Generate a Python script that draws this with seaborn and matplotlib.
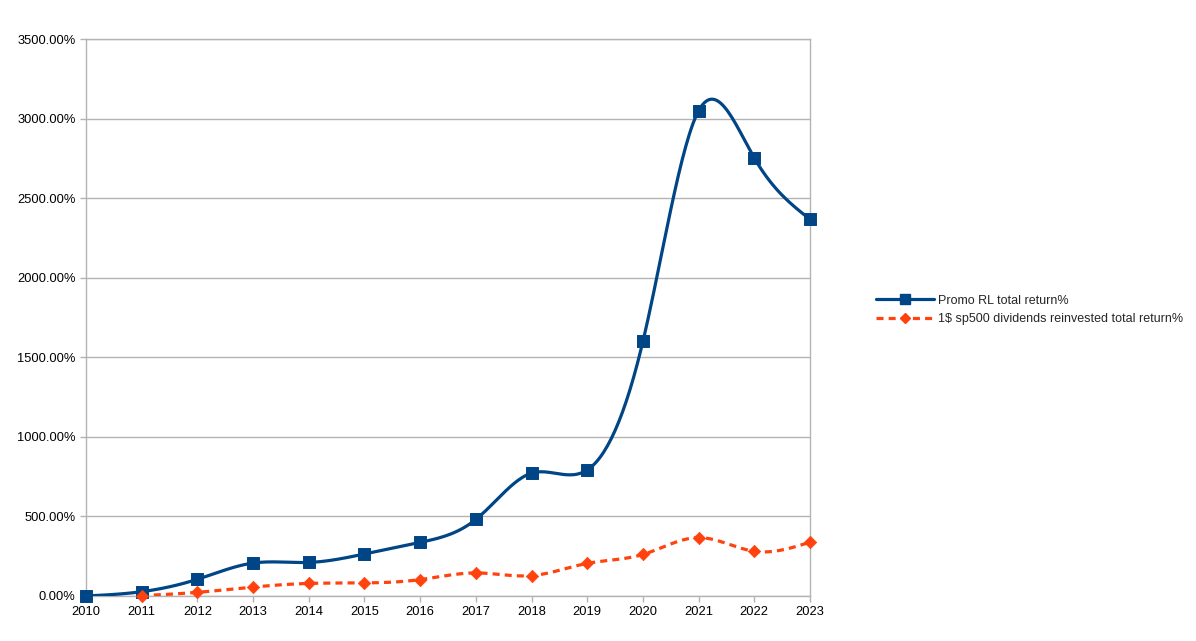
import matplotlib
matplotlib.use('AGG')
import matplotlib.pyplot as plt
from matplotlib.lines import Line2D
from matplotlib.ticker import FuncFormatter, MultipleLocator
import seaborn as sns
import numpy as np
import pandas as pd

# data (percent)
years = [2010, 2011, 2012, 2013, 2014, 2015, 2016, 2017, 2018, 2019, 2020, 2021, 2022, 2023]
promo_rl = [0, 27, 105, 207, 211, 264, 337, 481, 772, 792, 1600, 3049, 2752, 2367]
sp500_years = [2011, 2012, 2013, 2014, 2015, 2016, 2017, 2018, 2019, 2020, 2021, 2022, 2023]
sp500 = [2, 23, 56, 79, 82, 103, 145, 128, 205, 261, 367, 281, 338]

LAB_PROMO = 'Promo RL total return%'
LAB_SP = '1$ sp500 dividends reinvested total return%'
BLUE = '#004586'
ORANGE = '#ff420e'


def smooth(x, y, n=30):
    # natural cubic spline, only used to draw the smoothed line like the original
    x = np.asarray(x, float)
    y = np.asarray(y, float)
    k = len(x)
    h = np.diff(x)
    A = np.zeros((k, k))
    b = np.zeros(k)
    A[0, 0] = A[-1, -1] = 1
    for i in range(1, k - 1):
        A[i, i - 1] = h[i - 1]
        A[i, i] = 2 * (h[i - 1] + h[i])
        A[i, i + 1] = h[i]
        b[i] = 6 * ((y[i + 1] - y[i]) / h[i] - (y[i] - y[i - 1]) / h[i - 1])
    m = np.linalg.solve(A, b)
    xs, ys = [], []
    for i in range(k - 1):
        t = np.linspace(x[i], x[i + 1], n, endpoint=False)
        a = x[i + 1] - t
        c = t - x[i]
        s = (m[i] * a ** 3 + m[i + 1] * c ** 3) / (6 * h[i]) \
            + (y[i] / h[i] - m[i] * h[i] / 6) * a \
            + (y[i + 1] / h[i] - m[i + 1] * h[i] / 6) * c
        xs.extend(t)
        ys.extend(s)
    xs.append(x[-1])
    ys.append(y[-1])
    return pd.DataFrame({'year': xs, 'val': ys})


sns.set_theme(style='white')
plt.rcParams['font.family'] = ['Liberation Sans', 'DejaVu Sans']

fig = plt.figure(figsize=(11.96, 6.41), dpi=100)
ax = fig.add_axes([86 / 1196, 45 / 641, 724 / 1196, 557 / 641])

promo_df = pd.DataFrame({'year': years, 'val': promo_rl})
sp_df = pd.DataFrame({'year': sp500_years, 'val': sp500})

sns.lineplot(data=smooth(years, promo_rl), x='year', y='val', ax=ax,
             color=BLUE, linewidth=2.3, zorder=3)
sns.lineplot(data=smooth(sp500_years, sp500), x='year', y='val', ax=ax,
             color=ORANGE, linewidth=2.3, linestyle=(0, (2.2, 1.6)), zorder=3)
sns.scatterplot(data=promo_df, x='year', y='val', ax=ax, marker='s', s=75,
                color=BLUE, edgecolor=BLUE, zorder=4, clip_on=False)
sns.scatterplot(data=sp_df, x='year', y='val', ax=ax, marker='D', s=40,
                color=ORANGE, edgecolor=ORANGE, zorder=4, clip_on=False)

ax.set_xlim(2010, 2023)
ax.set_ylim(0, 3500)
ax.xaxis.set_major_locator(MultipleLocator(1))
ax.yaxis.set_major_locator(MultipleLocator(500))
ax.yaxis.set_major_formatter(FuncFormatter(lambda v, p: '%.2f%%' % v))
ax.set_xlabel('')
ax.set_ylabel('')
ax.grid(axis='y', color='#b3b3b3', linewidth=1)
ax.set_axisbelow(True)
for sp in ax.spines.values():
    sp.set_color('#b3b3b3')
    sp.set_linewidth(1)
ax.tick_params(axis='both', labelsize=9.3, colors='#b3b3b3', labelcolor='black',
               length=4, width=1, direction='out', left=True, bottom=True, pad=3.5)

handles = [
    Line2D([], [], color=BLUE, linewidth=2.3, marker='s', markersize=7),
    Line2D([], [], color=ORANGE, linewidth=2.3, linestyle=(0, (2.2, 1.6)),
           marker='D', markersize=5),
]
fig.legend(handles, [LAB_PROMO, LAB_SP], loc='center left',
           bbox_to_anchor=(865 / 1196, 1 - 310 / 641), frameon=False,
           fontsize=9, handlelength=4.6, handletextpad=0.35, labelspacing=0.55)

plt.savefig('out.png', dpi=100)
